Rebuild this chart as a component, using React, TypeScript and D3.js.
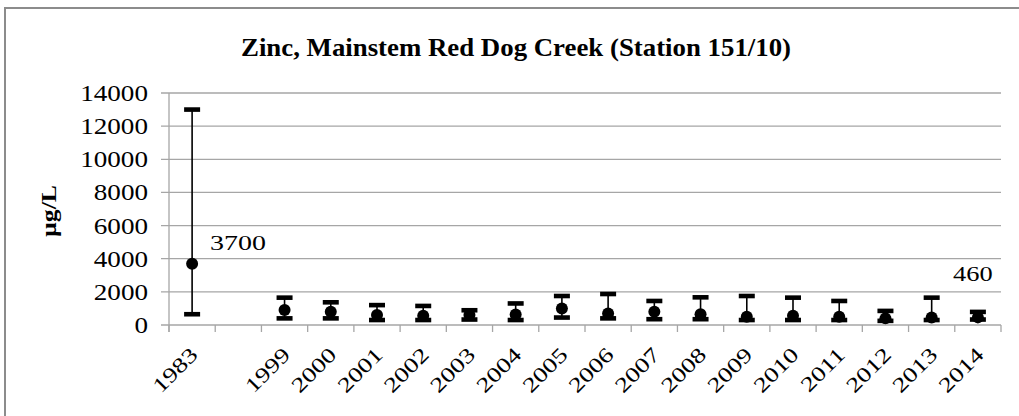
import React from 'react';
import * as d3 from 'd3';

const categories = ["1983", "", "1999", "2000", "2001", "2002", "2003", "2004", "2005", "2006", "2007", "2008", "2009", "2010", "2011", "2012", "2013", "2014"];
const meanValues: (number | null)[] = [3700, null, 900, 800, 600, 560, 600, 640, 1000, 700, 800, 650, 500, 560, 500, 400, 450, 460];
const upperValues: (number | null)[] = [13000, null, 1650, 1370, 1200, 1150, 890, 1300, 1750, 1870, 1450, 1670, 1750, 1650, 1450, 850, 1650, 790];
const lowerValues: (number | null)[] = [650, null, 400, 400, 300, 300, 330, 300, 450, 400, 350, 350, 300, 300, 300, 250, 300, 330];
const yTickValues = [0, 2000, 4000, 6000, 8000, 10000, 12000, 14000];
const titleText = "Zinc, Mainstem Red Dog Creek (Station 151/10)";
const yAxisTitle = "µg/L";
const dataLabels = [
  { index: 0, text: "3700", placement: "right" },
  { index: 17, text: "460", placement: "above" },
];

const FONT = "'Liberation Serif', 'Times New Roman', Times, serif";

export default function App() {
  const W = 1019;
  const H = 416;
  const plot = { left: 169, right: 1001, top: 93, bottom: 325 };

  const x = d3
    .scaleBand<string>()
    .domain(categories.map((_, i) => String(i)))
    .range([plot.left, plot.right])
    .paddingInner(0)
    .paddingOuter(0);
  const y = d3.scaleLinear().domain([0, 14000]).range([plot.bottom, plot.top]);

  const cx = (i: number) => (x(String(i)) as number) + x.bandwidth() / 2;
  const boundaries = d3.range(categories.length + 1).map((i) => plot.left + i * x.step());

  const gridColor = '#a6a6a6';
  const ts = { fontFamily: FONT };

  return (
    <svg
      width={W}
      height={H}
      style={{ position: 'absolute', left: 0, top: 0, background: '#fff', fontFamily: FONT }}
    >
      <rect x={0} y={0} width={W} height={H} fill="#fff" />
      <rect x={5} y={8} width={W + 20} height={H + 20} fill="none" stroke="#8c8c8c" strokeWidth={2} />

      <text
        x={516}
        y={56}
        textAnchor="middle"
        fontSize={25}
        fontWeight="bold"
        textLength={550}
        lengthAdjust="spacingAndGlyphs"
        style={ts}
      >
        {titleText}
      </text>

      {yTickValues.map((v) => (
        <g key={v}>
          <line x1={plot.left - 8} x2={plot.right} y1={y(v)} y2={y(v)} stroke={gridColor} strokeWidth={1.3} />
          <text
            transform={`translate(148,${y(v)}) scale(1.18,1)`}
            textAnchor="end"
            dy="0.35em"
            fontSize={23}
            style={ts}
          >
            {v}
          </text>
        </g>
      ))}

      <line x1={plot.left} x2={plot.left} y1={plot.top} y2={plot.bottom + 7} stroke={gridColor} strokeWidth={1.3} />

      {boundaries.map((bx, i) => (
        <line key={i} x1={bx} x2={bx} y1={plot.bottom} y2={plot.bottom + 7} stroke={gridColor} strokeWidth={1.3} />
      ))}

      {categories.map((c, i) =>
        c ? (
          <text
            key={i}
            transform={`translate(${cx(i) + 7},356) rotate(-45) scale(1.28,1)`}
            textAnchor="end"
            fontSize={21}
            style={ts}
          >
            {c}
          </text>
        ) : null
      )}

      <text
        transform={`translate(56,211) rotate(-90)`}
        textAnchor="middle"
        fontSize={20}
        fontWeight="bold"
        textLength={52}
        lengthAdjust="spacingAndGlyphs"
        style={ts}
      >
        {yAxisTitle}
      </text>

      {categories.map((_, i) => {
        const m = meanValues[i];
        const hi = upperValues[i];
        const lo = lowerValues[i];
        if (m == null || hi == null || lo == null) return null;
        const px = cx(i);
        return (
          <g key={i}>
            <line x1={px} x2={px} y1={y(hi)} y2={y(lo)} stroke="#000" strokeWidth={1.6} />
            <rect x={px - 8} y={y(hi) - 2.3} width={16} height={4.6} fill="#000" />
            <rect x={px - 8} y={y(lo) - 2.3} width={16} height={4.6} fill="#000" />
            <circle cx={px} cy={y(m)} r={6} fill="#000" />
          </g>
        );
      })}

      {dataLabels.map((d) => {
        const m = meanValues[d.index] as number;
        const px = cx(d.index);
        const py = y(m);
        if (d.placement === 'right') {
          return (
            <text key={d.index} transform={`translate(${px + 18},${py - 14}) scale(1.27,1)`} fontSize={22} style={ts}>
              {d.text}
            </text>
          );
        }
        return (
          <text
            key={d.index}
            transform={`translate(${px - 5},${py - 36}) scale(1.2,1)`}
            textAnchor="middle"
            fontSize={22}
            style={ts}
          >
            {d.text}
          </text>
        );
      })}
    </svg>
  );
}
